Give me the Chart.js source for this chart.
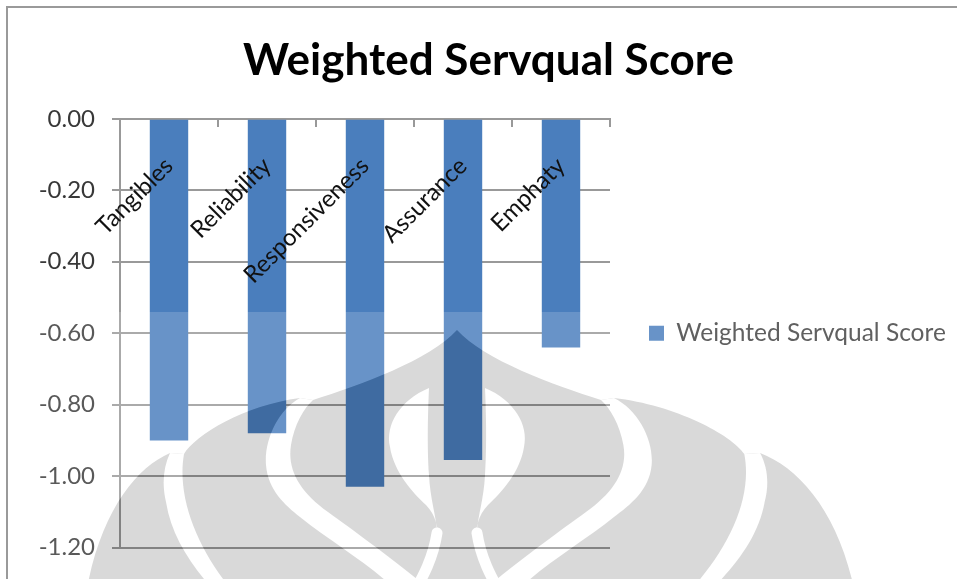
<!DOCTYPE html>
<html>
<head>
<meta charset="utf-8">
<script src="https://cdn.jsdelivr.net/npm/chart.js@4/dist/chart.umd.min.js"></script>
<style>
  html, body { margin: 0; padding: 0; background: #ffffff; }
  #wrap { position: relative; width: 957px; height: 579px; overflow: hidden; }
  #frame { position: absolute; left: 6px; top: 6px; width: 1200px; height: 900px;
           border-left: 2px solid #9a9a9a; border-top: 2px solid #9a9a9a; pointer-events: none; }
  canvas { display: block; }
</style>
</head>
<body>
<div id="wrap">
  <canvas id="chart" width="957" height="579"></canvas>
  <div id="frame"></div>
</div>
<script>
// Service quality dimensions and their weighted gap scores
const categories = ['Tangibles', 'Reliability', 'Responsiveness', 'Assurance', 'Emphaty'];
const weightedScores = [-0.90, -0.88, -1.03, -0.955, -0.64];
const seriesLabel = 'Weighted Servqual Score';
const chartTitle = 'Weighted Servqual Score';
const yTickValues = [0, -0.2, -0.4, -0.6, -0.8, -1.0, -1.2];

const BAR_BLUE = '#4A7EBD';
const AXIS_GREY = '#999999';

// Faint page watermark: a light haze over the lower part plus a grey emblem
const watermark = {
  id: 'watermark',
  afterDraw(chart) {
    const W = chart.width, H = chart.height;
    const hazeTop = 312;
    const cx = 457;
    // right half is a mirror of the left half, slightly wider at the outside
    const rx = x => { const m = 2 * cx - x; return m + Math.max(0, m - 620) * 0.13; };
    const id = x => x;

    const emblem = document.createElement('canvas');
    emblem.width = W; emblem.height = H;
    const e = emblem.getContext('2d');

    // outline of the whole emblem
    e.fillStyle = '#d9d9d9';
    e.beginPath();
    e.moveTo(85, 600);
    e.bezierCurveTo(98, 515, 135, 468, 170, 453);
    e.lineTo(184, 454);
    e.bezierCurveTo(195, 435, 245, 405, 300, 398);
    e.lineTo(313, 400);
    e.bezierCurveTo(360, 385, 430, 360, cx, 330);
    e.bezierCurveTo(rx(430), 360, rx(360), 385, rx(313), 400);
    e.lineTo(rx(300), 398);
    e.bezierCurveTo(rx(245), 405, rx(195), 435, rx(184), 454);
    e.lineTo(rx(170), 453);
    e.bezierCurveTo(rx(135), 468, rx(98), 515, rx(85), 600);
    e.closePath();
    e.fill();

    // white openings between the petals, as closed shapes on the left half
    const openings = [
      { start: [170, 453], segs: [
        ['C', 163, 468, 162, 485, 166, 502], ['C', 172, 540, 195, 570, 222, 600],
        ['L', 240, 600], ['C', 200, 555, 176, 500, 184, 454] ] },
      { start: [300, 398], segs: [
        ['C', 278, 410, 264, 440, 266, 465], ['C', 268, 490, 285, 505, 300, 517],
        ['C', 335, 545, 380, 570, 405, 600], ['L', 442, 600],
        ['C', 410, 572, 360, 535, 328, 512], ['C', 300, 492, 287, 470, 291, 445],
        ['C', 294, 425, 304, 408, 313, 400] ] },
      { start: [429, 388], segs: [
        ['C', 400, 400, 385, 425, 390, 447], ['C', 394, 472, 412, 492, 426, 505],
        ['C', 436, 515, 438, 528, 438, 537], ['C', 436, 515, 430, 498, 429, 475],
        ['C', 427, 445, 428, 410, 429, 388] ] }
    ];
    e.globalCompositeOperation = 'destination-out';
    e.fillStyle = '#000';
    [id, rx].forEach(fx => {
      openings.forEach(o => {
        e.beginPath();
        e.moveTo(fx(o.start[0]), o.start[1]);
        o.segs.forEach(s => {
          if (s[0] === 'L') e.lineTo(fx(s[1]), s[2]);
          else e.bezierCurveTo(fx(s[1]), s[2], fx(s[3]), s[4], fx(s[5]), s[6]);
        });
        e.closePath();
        e.fill();
      });
      // thin stroke continuing below each inner opening
      e.lineWidth = 11;
      e.lineCap = 'round';
      e.beginPath();
      e.moveTo(fx(437), 533);
      e.bezierCurveTo(fx(433), 560, fx(421), 580, fx(410), 600);
      e.stroke();
    });

    const haze = document.createElement('canvas');
    haze.width = W; haze.height = H;
    const h = haze.getContext('2d');
    h.fillStyle = 'rgba(255,255,255,0.17)';
    h.fillRect(0, hazeTop, W, H - hazeTop);
    h.globalCompositeOperation = 'destination-out';
    h.drawImage(emblem, 0, 0);

    const ctx = chart.ctx;
    ctx.save();
    ctx.drawImage(haze, 0, 0);
    ctx.globalCompositeOperation = 'multiply';
    ctx.drawImage(emblem, 0, 0);
    ctx.restore();
  }
};

new Chart(document.getElementById('chart'), {
  type: 'bar',
  data: {
    labels: categories,
    datasets: [{
      label: seriesLabel,
      data: weightedScores,
      backgroundColor: BAR_BLUE,
      borderWidth: 0,
      categoryPercentage: 0.8,
      barPercentage: 0.49
    }]
  },
  options: {
    responsive: false,
    animation: false,
    devicePixelRatio: 1,
    layout: { padding: { left: 30, right: 10, top: 0, bottom: 26 } },
    plugins: {
      title: {
        display: true,
        text: chartTitle,
        color: '#000000',
        font: { family: 'Lato', size: 44, weight: 'bold', lineHeight: 1.2 },
        padding: { top: 34, bottom: 32 }
      },
      legend: {
        position: 'right',
        fullSize: false,
        maxWidth: 337,
        labels: {
          boxWidth: 15,
          boxHeight: 15,
          padding: 39,
          color: '#404040',
          font: { family: 'Lato', size: 24.5 }
        }
      },
      tooltip: { enabled: false }
    },
    scales: {
      x: {
        position: { y: 0 },
        offset: true,
        grid: { offset: true, drawOnChartArea: false, drawTicks: true, tickLength: 7, color: AXIS_GREY, lineWidth: 2 },
        border: { display: true, color: AXIS_GREY, width: 2 },
        ticks: {
          minRotation: 45, maxRotation: 45, autoSkip: false,
          color: '#111111', padding: 26, z: 1,
          font: { family: 'Lato', size: 24 }
        }
      },
      y: {
        min: -1.2,
        max: 0,
        afterFit(scale) { scale.width = 90; },
        afterBuildTicks(scale) { scale.ticks = yTickValues.map(v => ({ value: v })); },
        grid: { color: AXIS_GREY, lineWidth: 2, tickLength: 8 },
        border: { display: true, color: AXIS_GREY, width: 2 },
        ticks: {
          padding: 17,
          color: '#383838',
          font: { family: 'Lato', size: 24 },
          callback: v => Number(v).toFixed(2)
        }
      }
    }
  },
  plugins: [watermark]
});
</script>
</body>
</html>
